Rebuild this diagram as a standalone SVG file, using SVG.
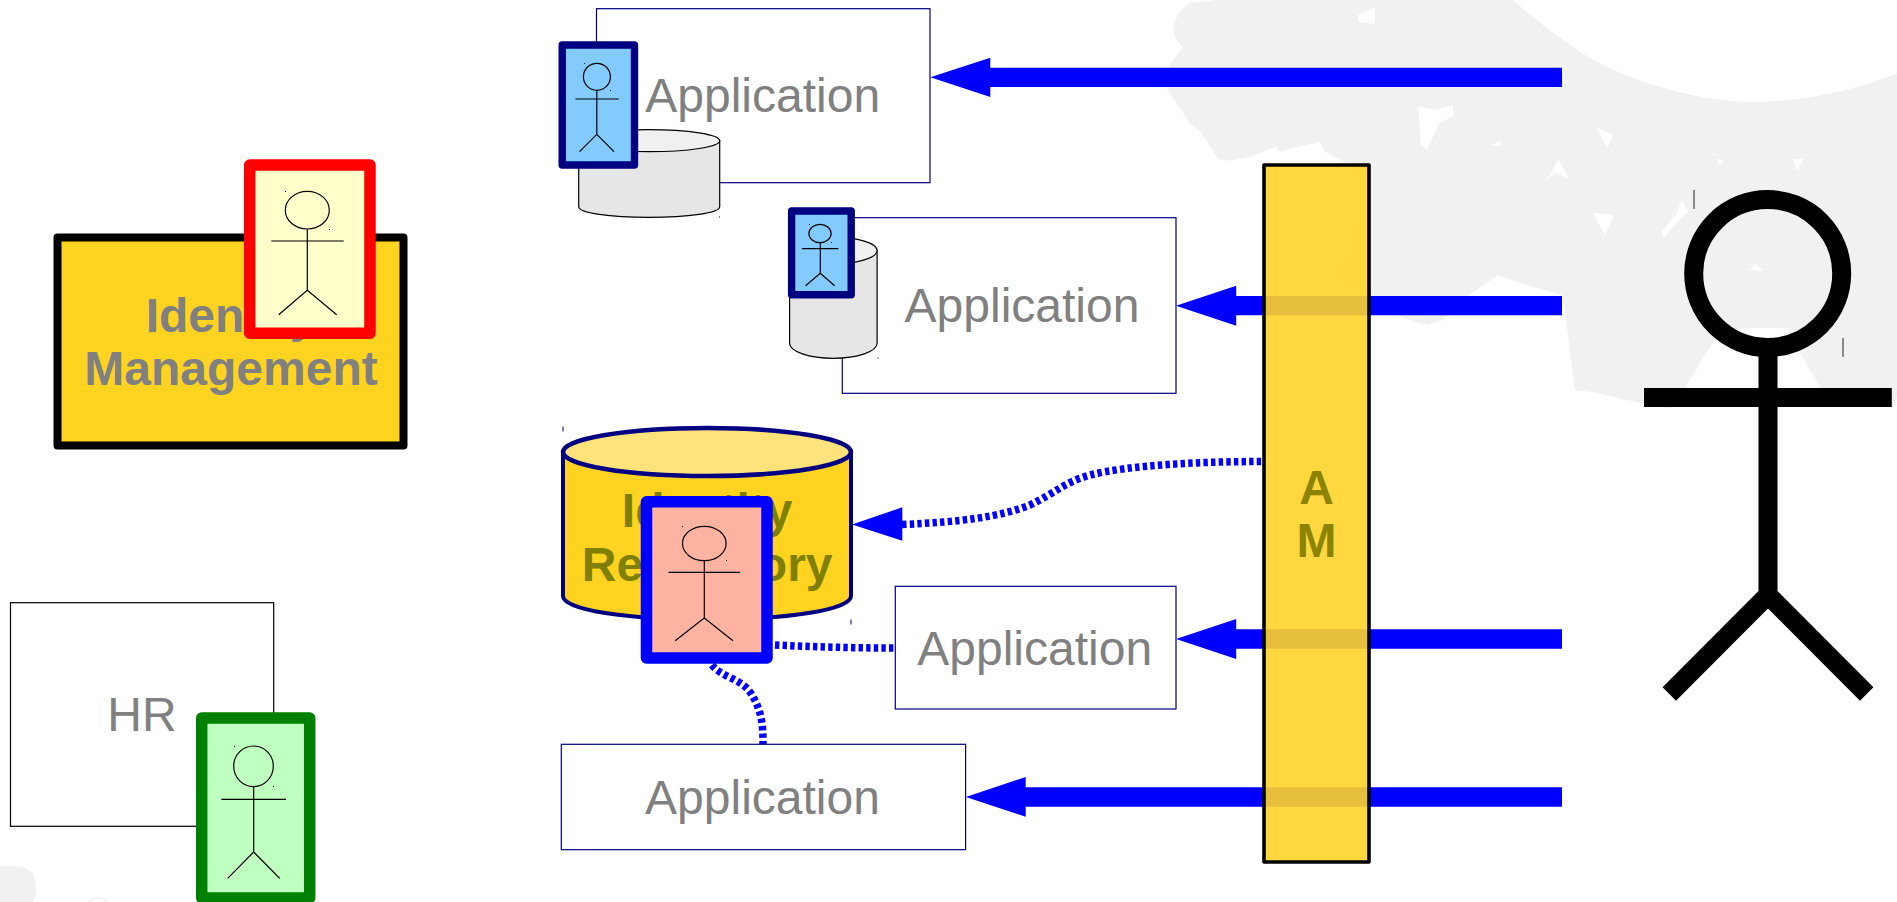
<svg xmlns="http://www.w3.org/2000/svg" width="1897" height="902" viewBox="0 0 1897 902">
<style>
text{font-family:"Liberation Sans",Arial,sans-serif;font-size:48px;text-anchor:middle}
.t{fill:#808080}
.b{font-weight:bold}
.o{fill:#808000;font-weight:bold}
.app{fill:#fff;stroke:#000080;stroke-width:1.2}
.card{stroke-width:11.5;stroke-linejoin:round}
.thin{stroke-width:7.4}
.fig{fill:none;stroke:#000;stroke-width:1.2}
.dot{fill:#000}
.cyl{fill:#e6e6e6;stroke:#000;stroke-width:1.2}
.cylt{fill:#f0f0f0;stroke:#000;stroke-width:1.2}
.dash{fill:none;stroke:#00f;stroke-width:7.5;stroke-dasharray:4.4 3.2}
.arrow{fill:#00f}
</style>
<g id="background" fill="#f1f1f1">
<path fill-rule="evenodd" d="M1216.7 0L1190 3C1180 8 1174 20 1173.3 30C1174 38 1178 42 1183.3 46.7L1168.3 66.7L1166.7 88.3L1190 123L1201.7 133L1218.3 159.3L1230 160.7L1250 156.7L1276.7 146.7L1278 151.7L1320 141.7L1325 151.7L1350 165.7L1363 175L1363 213L1350 257L1335 272L1356.7 288L1370 295L1400 316.7L1426.7 325L1443 320L1466.7 296.7L1498 275L1520 283L1562 295L1565.7 315L1570 353L1575 390L1596.7 393L1640 403L1666.7 408L1675 407L1686.7 385L1713 341.7L1741.7 328L1786.7 328L1800 353L1820 386.7L1833 407L1891.7 407L1897 398L1897 73.3C1850 92 1800 102 1750 102C1690 100 1630 80 1593.3 60C1560 40 1530 15 1513 0Z
M1375 6.7L1358 15L1358 21.7L1375 24Z
M1418.3 106.7L1435 110L1452.7 105L1454 116.7L1440 121.7L1426.7 150L1420.7 145Z
M1500 141L1501 146L1491.7 145Z
M1558.3 159.3L1569.3 178.3L1555 173.3L1540 184L1550 175Z
M1596 126.7L1613.3 135L1607.3 148.3Z
M1592.7 212.7L1614 215L1605 235Z
M1716.7 159L1724 160L1720 166Z
M1792.7 159.3L1804 159.3L1797.3 170.7Z
M1681.7 200L1688.3 211.7L1673.3 226.7L1663.3 239.3L1661.7 231.7L1676.7 213.3Z
M1750 270L1755 264L1763.3 270.7Z"/>
<path d="M0 866L23.3 866.7L33.3 873.3L36.7 893L33 902L0 902Z"/>
<path d="M88 902Q98 894 108 902" fill="none" stroke="#f1f1f1" stroke-width="1.5"/>
</g>
<g id="connectors">
<path class="arrow" d="M1562 67.7H990.3V57.7L930.3 77.3L990.3 97V87H1562Z"/>
<path class="arrow" d="M1562 296H1236.2V285.7L1176 305.7L1236.2 325.7V315.3H1562Z"/>
<path class="arrow" d="M1562 629.3H1236.2V619L1176 639L1236.2 659V648.7H1562Z"/>
<path class="arrow" d="M1562 787.3H1025.7V777L965.8 797L1025.7 816.7V806.7H1562Z"/>
<path class="arrow" d="M902.3 507.3L852 524.5L902.3 540.7Z"/>
<path class="dash" d="M902 524.5C960 522 1000 517 1030 505C1055 493 1065 482 1090 475C1130 465 1200 461.5 1263 461.5"/>
<path class="dash" d="M775 645C815 647 855 648 895 648"/>
<path class="dash" d="M712 665C722 678 742 678 752 695C762 712 763 725 763 744"/>
</g>
<g id="app1">
<rect class="app" x="596.5" y="8.7" width="333.5" height="174"/>
<text class="t" x="762.7" y="111.7">Application</text>
</g>
<g id="db1">
<path class="cyl" d="M578.7 140.7V206.7C578.7 213 610 217.3 649 217.3S719.7 213 719.7 206.7V140.7Z"/>
<ellipse class="cylt" cx="649.2" cy="140.7" rx="70.5" ry="11"/>
<rect class="dot" x="719" y="216.5" width="1" height="1"/>
</g>
<g id="card1">
<rect class="card thin" x="562.2" y="45" width="72.3" height="120" fill="#83caff" stroke="#000080"/>
<ellipse class="fig" cx="596.9" cy="76.8" rx="13.5" ry="13.5"/>
<path class="fig" d="M575.4 99H618.7M596.8 90.3V134.3L579.6 151.7M596.8 134.3L614 151.7"/>
<rect class="dot" x="584" y="63" width="1" height="1"/>
<rect class="dot" x="610" y="90" width="1" height="1"/>
</g>
<g id="app2">
<rect class="app" x="842.3" y="217.7" width="333.7" height="175.6"/>
<text class="t" x="1022" y="321.7">Application</text>
</g>
<g id="db2">
<path class="cyl" d="M789.6 250.5V343.3C789.6 351.5 809 358.3 833.3 358.3S877.1 351.5 877.1 343.3V250.5Z"/>
<ellipse class="cylt" cx="833.3" cy="250.5" rx="43.8" ry="13.3"/>
<rect class="dot" x="877.5" y="357.5" width="1" height="1"/>
</g>
<g id="card2">
<rect class="card thin" x="791.6" y="211" width="59.6" height="83.7" fill="#83caff" stroke="#000080"/>
<ellipse class="fig" cx="820" cy="233.5" rx="11.1" ry="9.2"/>
<path class="fig" d="M801.8 248.7H838.4M820.3 242.7V273.3L805.6 285.7M820.3 273.3L834.6 285.7"/>
<rect class="dot" x="809" y="224" width="1" height="1"/>
<rect class="dot" x="831" y="242" width="1" height="1"/>
</g>
<g id="identity-repository">
<path d="M563 452V596C563 610 628 619.5 707 619.5S851 610 851 596V452Z" fill="#ffd320" stroke="#000080" stroke-width="4"/>
<ellipse cx="707" cy="452" rx="144" ry="24" fill="#ffe27a" stroke="#000080" stroke-width="4.6"/>
<text class="o" x="707.2" y="526.7">Identity</text>
<text class="o" x="707.2" y="580.7">Repository</text>
<rect x="562.5" y="426.5" width="1" height="5" fill="#000080"/>
<rect x="850.5" y="619.5" width="1" height="5" fill="#000080"/>
</g>
<g id="card-repository">
<rect class="card" x="646.5" y="501.7" width="120.5" height="156.3" fill="#ffb3a0" stroke="#00f"/>
<ellipse class="fig" cx="704.3" cy="543.5" rx="21.8" ry="17.2"/>
<path class="fig" d="M668.5 572.3H740.2M704.3 560.7V618L675.2 640.7M704.3 618L733 640.7"/>
<rect class="dot" x="682" y="526" width="1" height="1"/>
<rect class="dot" x="726" y="560" width="1" height="1"/>
</g>
<g id="app3">
<rect class="app" x="895.3" y="586.3" width="280.7" height="122.7"/>
<text class="t" x="1034.7" y="665">Application</text>
</g>
<g id="app4">
<rect class="app" x="561.3" y="744.3" width="404.3" height="105.4"/>
<text class="t" x="762.5" y="814">Application</text>
</g>
<g id="access-management">
<rect x="1264" y="165" width="105" height="697" fill="#ffd42a" fill-opacity="0.9" stroke="#000" stroke-width="3.6" stroke-linejoin="round"/>
<text x="1316.5" y="504" class="b" fill="#8c8400">A</text>
<text x="1316.5" y="557.3" class="b" fill="#8c8400">M</text>
</g>
<g id="identity-management">
<rect x="57.5" y="237.5" width="346" height="208" fill="#ffd320" stroke="#000" stroke-width="8" stroke-linejoin="round"/>
<text class="t b" x="231" y="331.7">Identity</text>
<text class="t b" x="231" y="385">Management</text>
</g>
<g id="card-management">
<rect class="card" x="249.7" y="165" width="120.3" height="168.3" fill="#ffffcc" stroke="#f00"/>
<ellipse class="fig" cx="307.3" cy="210.2" rx="22" ry="18.8"/>
<path class="fig" d="M271.3 241H343.7M307.3 229V290.3L278.7 314.7M307.3 290.3L336.7 314.7"/>
<rect class="dot" x="285" y="191" width="1" height="1"/>
<rect class="dot" x="329" y="229" width="1" height="1"/>
</g>
<g id="hr">
<rect x="10.5" y="602.7" width="263.2" height="223.6" fill="#fff" stroke="#000" stroke-width="1.2"/>
<text class="t" x="142" y="730.7">HR</text>
</g>
<g id="card-hr">
<rect class="card" x="201.7" y="718" width="108" height="180" fill="#bfffbf" stroke="#008000"/>
<ellipse class="fig" cx="253.5" cy="766.3" rx="19.8" ry="20.3"/>
<path class="fig" d="M221.3 799.3H286M253.7 786.7V852L227.7 878.3M253.7 852L279.7 878.3"/>
<rect class="dot" x="234" y="746" width="1" height="1"/>
<rect class="dot" x="273" y="786" width="1" height="1"/>
</g>
<g id="user">
<ellipse cx="1767.7" cy="273.5" rx="74" ry="74" fill="none" stroke="#000" stroke-width="19"/>
<path d="M1644 397.5H1891.8M1768 356V596M1669.3 694L1768 595L1866.7 694" fill="none" stroke="#000" stroke-width="19"/>
<rect x="1693.5" y="190" width="1" height="19" fill="#222"/>
<rect x="1842.5" y="338" width="1" height="19" fill="#222"/>
</g>
</svg>
